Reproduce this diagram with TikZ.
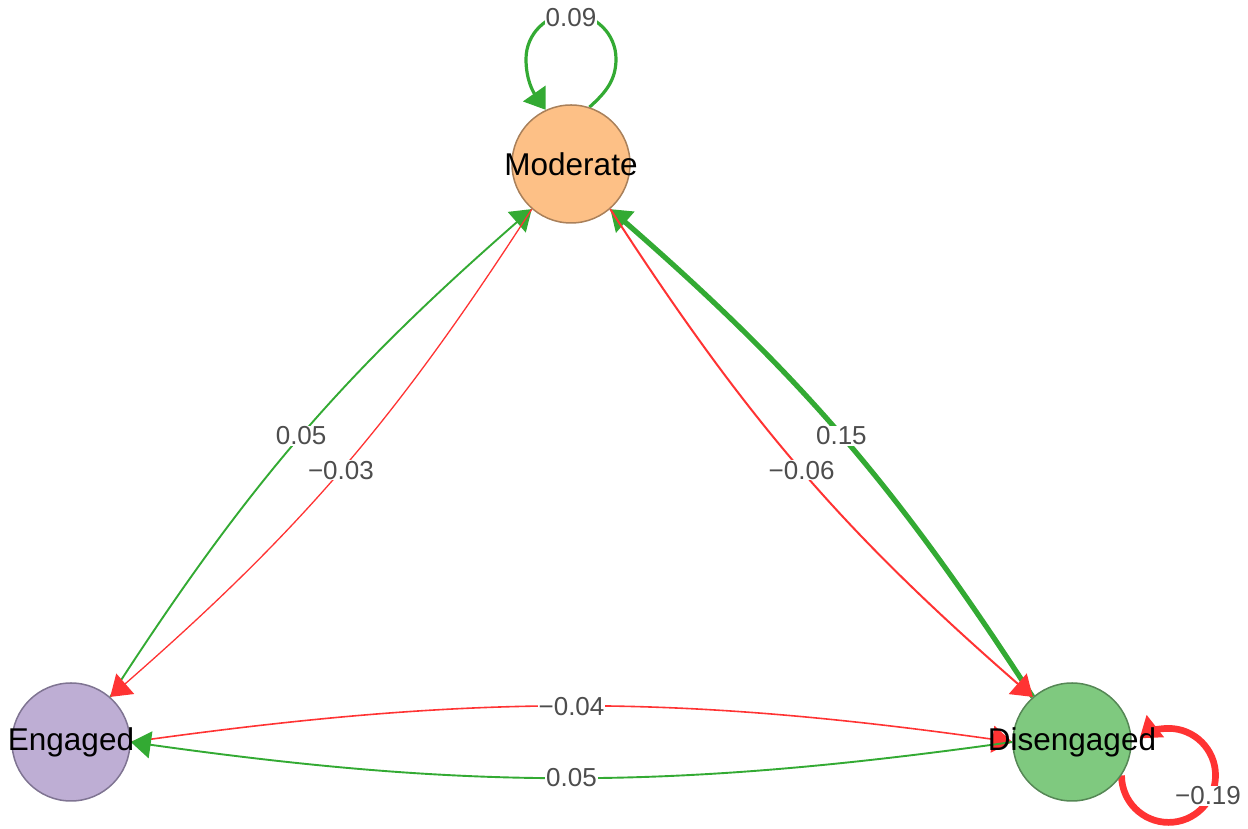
\documentclass[tikz,border=0pt]{standalone}
\usepackage{fontspec}
\setmainfont{Liberation Sans}
\usetikzlibrary{arrows.meta}
\definecolor{engagedfill}{HTML}{BEAED4}
\definecolor{engagedborder}{HTML}{7F7492}
\definecolor{moderatefill}{HTML}{FDC086}
\definecolor{moderateborder}{HTML}{A9805A}
\definecolor{disengagedfill}{HTML}{7FC97F}
\definecolor{disengagedborder}{HTML}{558755}
\definecolor{posgreen}{HTML}{33AA33}
\definecolor{negred}{HTML}{FF3333}
\definecolor{labelgray}{HTML}{4D4D4D}
\pgfdeclarelayer{edges}
\pgfsetlayers{edges,main}

\begin{document}
\begin{tikzpicture}[x=1pt, y=1pt, >={Triangle[length=20pt, width=27pt]},
    state/.style={circle, draw, line width=1.5pt, minimum size=118pt, inner sep=0pt,
      font=\fontsize{31.5}{36}\selectfont},
    weight/.style={fill=white, inner sep=1pt, text=labelgray,
      font=\fontsize{26}{30}\selectfont}]
        \useasboundingbox (0,0) rectangle (1248,829);

        \node[state, fill=moderatefill, draw=moderateborder] (mod) at (571,665)
          {\makebox[0pt]{Moderate}};
        \node[state, fill=engagedfill, draw=engagedborder] (eng) at (71,87)
          {\makebox[0pt]{Engaged}};
        \node[state, fill=disengagedfill, draw=disengagedborder] (dis) at (1072,87)
          {\makebox[0pt]{Disengaged}};

        \begin{pgfonlayer}{edges}
        % self loops
        \coordinate (modloopR) at (616,770);
        \coordinate (modloopL) at (526,770);
        \draw[->, posgreen, line width=3.2pt] (mod.72)
          to[out=42, in=-90] (modloopR)
          arc[start angle=0, end angle=180, radius=45]
          to[out=-90, in=125] (mod.115);
        \node[weight] (modloopw) at (571,811) {0.09};

        \draw[->, negred, line width=6.7pt] (dis.-34)
          arc[start angle=180, end angle=488, radius=47];
        \node[weight] (disloopw) at (1208,33) {−0.19};

        % engaged <-> moderate
        \draw[->, posgreen, line width=1.9pt] (eng.49)
          to[bend left=8] node[weight] {0.05} (mod.229);
        \draw[->, negred, line width=1.3pt] (mod.229)
          to[bend left=8] node[weight] {−0.03} (eng.49);

        % disengaged <-> moderate
        \draw[->, posgreen, line width=5.2pt] (dis.131)
          to[bend right=8] node[weight] {0.15} (mod.311);
        \draw[->, negred, line width=2pt] (mod.311)
          to[bend right=8] node[weight] {−0.06} (dis.131);

        % engaged <-> disengaged
        \draw[->, negred, line width=1.6pt] (eng.0)
          to[bend left=8] node[weight] {−0.04} (dis.180);
        \draw[->, posgreen, line width=1.9pt] (dis.180)
          to[bend left=8] node[weight] {0.05} (eng.0);
        \end{pgfonlayer}

      \end{tikzpicture}
\end{document}
